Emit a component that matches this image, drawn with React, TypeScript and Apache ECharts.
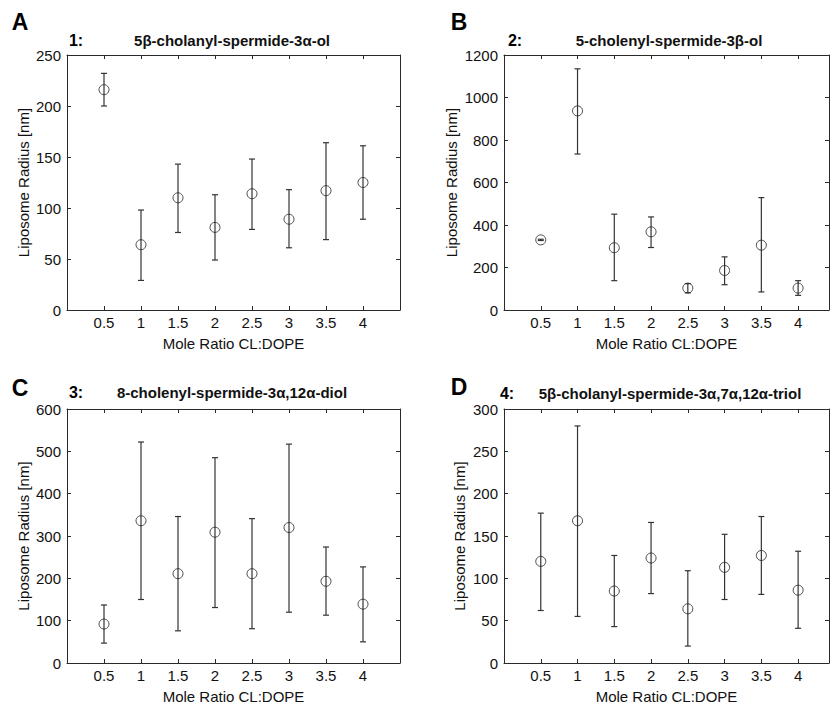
import React, { useEffect, useRef } from "react";
import * as echarts from "echarts";

const ratios = [0.5, 1, 1.5, 2, 2.5, 3, 3.5, 4];

const meanA = [216, 64, 110, 81, 114, 89, 117, 125];
const upperA = [232, 98, 143, 113, 148, 118, 164, 161];
const lowerA = [200, 29, 76, 49, 79, 61, 69, 89];

const meanB = [330, 937, 293, 368, 103, 186, 305, 103];
const upperB = [333, 1135, 451, 438, 124, 250, 529, 138];
const lowerB = [327, 734, 138, 294, 81, 119, 85, 69];

const meanC = [92, 336, 211, 309, 211, 320, 193, 139];
const upperC = [137, 522, 346, 485, 341, 517, 274, 227];
const lowerC = [47, 150, 76, 131, 81, 120, 113, 50];

const meanD = [120, 168, 85, 124, 64, 113, 127, 86];
const upperD = [177, 280, 127, 166, 109, 152, 173, 132];
const lowerD = [62, 55, 43, 82, 20, 75, 81, 41];

const panelLetters = ["A", "B", "C", "D"];
const panelNumbers = ["1:", "2:", "3:", "4:"];
const panelTitles = [
  "5β-cholanyl-spermide-3α-ol",
  "5-cholenyl-spermide-3β-ol",
  "8-cholenyl-spermide-3α,12α-diol",
  "5β-cholanyl-spermide-3α,7α,12α-triol",
];
const yMax = [250, 1200, 600, 300];
const yInterval = [50, 200, 100, 50];
const xAxisName = "Mole Ratio CL:DOPE";
const yAxisName = "Liposome Radius [nm]";

const FONT = "'Liberation Sans', Arial, Helvetica, sans-serif";

export default function App() {
  const ref = useRef<HTMLDivElement>(null);
  useEffect(() => {
    document.body.style.margin = "0";
    if (!ref.current) return;
    const chart = echarts.init(ref.current, undefined, { renderer: "svg" });

    const means = [meanA, meanB, meanC, meanD];
    const uppers = [upperA, upperB, upperC, upperD];
    const lowers = [lowerA, lowerB, lowerC, lowerD];

    const grids = [
      { left: 67, top: 55, width: 333, height: 255 },
      { left: 504, top: 55, width: 327, height: 255 },
      { left: 67, top: 409, width: 333, height: 254 },
      { left: 504, top: 409, width: 327, height: 254 },
    ];
    const xMax = [4.5, 4.42, 4.5, 4.42];
    const yNameGap = [36, 45, 36, 37];

    const lineColor = "#2a2a2a";
    const labelFmt = (v: number) => {
      if (v <= 0 || v > 4.01) return "";
      if (Math.abs(v * 2 - Math.round(v * 2)) > 1e-6) return "";
      return String(v);
    };

    const xAxes: any[] = [];
    const yAxes: any[] = [];
    for (let pass = 0; pass < 2; pass++) {
      for (let i = 0; i < 4; i++) {
        xAxes.push({
          type: "value",
          gridIndex: i,
          position: pass === 0 ? "bottom" : "top",
          min: 0,
          max: xMax[i],
          interval: 0.5,
          name: pass === 0 ? xAxisName : "",
          nameLocation: "middle",
          nameGap: 26,
          nameTextStyle: { fontFamily: FONT, fontSize: 15, color: "#111" },
          axisLine: { show: true, onZero: false, lineStyle: { color: lineColor, width: 1 } },
          axisTick: { show: true, inside: true, length: 4, lineStyle: { color: lineColor } },
          axisLabel: {
            show: pass === 0,
            formatter: labelFmt,
            fontFamily: FONT,
            fontSize: 15,
            color: "#111",
            margin: 5,
            showMinLabel: true,
            showMaxLabel: true,
          },
          splitLine: { show: false },
        });
        yAxes.push({
          type: "value",
          gridIndex: i,
          position: pass === 0 ? "left" : "right",
          min: 0,
          max: yMax[i],
          interval: yInterval[i],
          name: pass === 0 ? yAxisName : "",
          nameLocation: "middle",
          nameGap: yNameGap[i],
          nameRotate: 90,
          nameTextStyle: { fontFamily: FONT, fontSize: 15, color: "#111" },
          axisLine: { show: true, onZero: false, lineStyle: { color: lineColor, width: 1 } },
          axisTick: { show: true, inside: true, length: 4, lineStyle: { color: lineColor } },
          axisLabel: {
            show: pass === 0,
            formatter: (v: number) => String(v),
            fontFamily: FONT,
            fontSize: 15,
            color: "#111",
            margin: 6,
            showMinLabel: true,
            showMaxLabel: true,
          },
          splitLine: { show: false },
        });
      }
    }

    const series: any[] = [];
    for (let i = 0; i < 4; i++) {
      series.push({
        type: "custom",
        xAxisIndex: i,
        yAxisIndex: i,
        data: ratios.map((x, k) => [x, lowers[i][k], uppers[i][k]]),
        encode: { x: 0, y: [1, 2] },
        z: 2,
        renderItem: (params: any, api: any) => {
          const x = api.value(0);
          const lo = api.value(1);
          const hi = api.value(2);
          const pHi = api.coord([x, hi]);
          const pLo = api.coord([x, lo]);
          const w = 3;
          const st = { stroke: "#333", lineWidth: 1.2 };
          return {
            type: "group",
            children: [
              { type: "line", shape: { x1: pHi[0], y1: pHi[1], x2: pLo[0], y2: pLo[1] }, style: st },
              { type: "line", shape: { x1: pHi[0] - w, y1: pHi[1], x2: pHi[0] + w, y2: pHi[1] }, style: st },
              { type: "line", shape: { x1: pLo[0] - w, y1: pLo[1], x2: pLo[0] + w, y2: pLo[1] }, style: st },
            ],
          };
        },
      });
      series.push({
        type: "scatter",
        xAxisIndex: i,
        yAxisIndex: i,
        data: ratios.map((x, k) => [x, means[i][k]]),
        symbol: "circle",
        symbolSize: 10,
        z: 3,
        itemStyle: { color: "rgba(0,0,0,0)", borderColor: "#222", borderWidth: 1 },
      });
    }

    const letterPos = [
      [20, 22],
      [459, 22],
      [20, 388],
      [459, 387],
    ];
    const numberPos = [
      [76, 40],
      [515, 40],
      [76, 392],
      [507, 393],
    ];
    const titlePos = [
      [232, 40],
      [669, 40],
      [232, 392],
      [670, 393],
    ];
    const graphics: any[] = [];
    for (let i = 0; i < 4; i++) {
      graphics.push({
        type: "text",
        x: letterPos[i][0],
        y: letterPos[i][1],
        style: {
          text: panelLetters[i],
          fontFamily: FONT,
          fontSize: 23,
          fontWeight: "bold",
          fill: "#000",
          align: "center",
          verticalAlign: "middle",
        },
      });
      graphics.push({
        type: "text",
        x: numberPos[i][0],
        y: numberPos[i][1],
        style: {
          text: panelNumbers[i],
          fontFamily: FONT,
          fontSize: 16,
          fontWeight: "bold",
          fill: "#000",
          align: "center",
          verticalAlign: "middle",
        },
      });
      graphics.push({
        type: "text",
        x: titlePos[i][0],
        y: titlePos[i][1],
        style: {
          text: panelTitles[i],
          fontFamily: FONT,
          fontSize: 15,
          fontWeight: "bold",
          fill: "#111",
          align: "center",
          verticalAlign: "middle",
        },
      });
    }

    chart.setOption({
      animation: false,
      backgroundColor: "#ffffff",
      grid: grids,
      xAxis: xAxes,
      yAxis: yAxes,
      series,
      graphic: graphics,
    });
    return () => chart.dispose();
  }, []);
  return <div ref={ref} style={{ width: 832, height: 705 }} />;
}
